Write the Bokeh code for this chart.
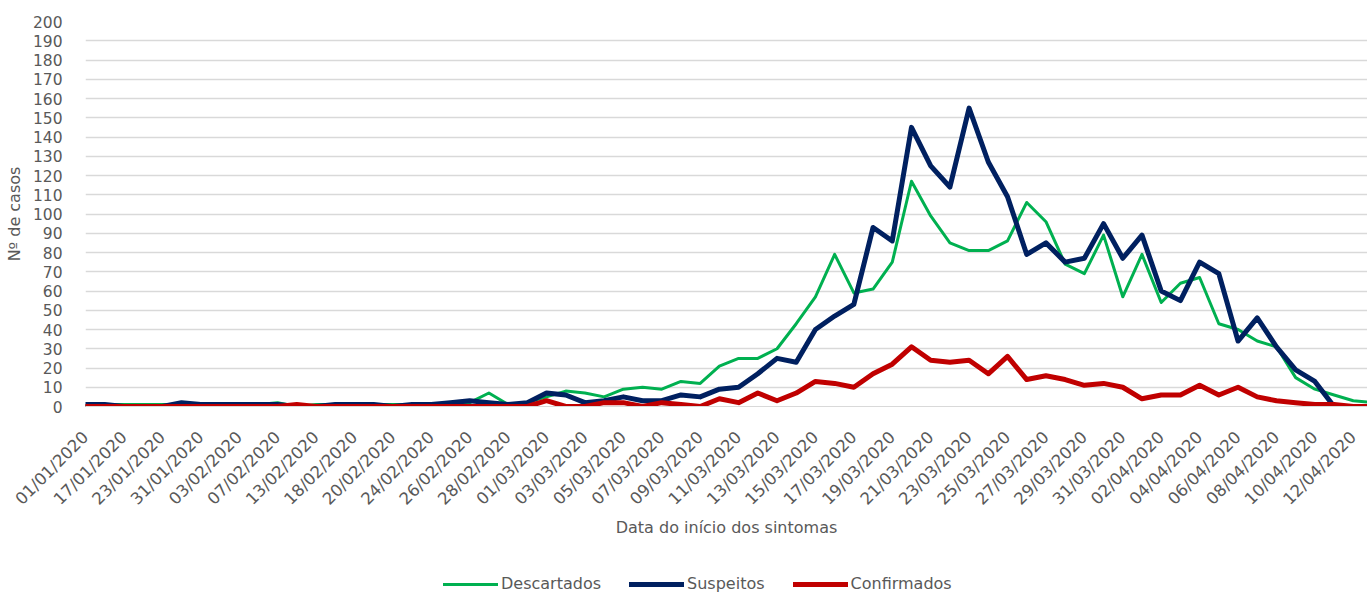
import math
from bokeh.plotting import figure
from bokeh.layouts import column
from bokeh.models import Range1d, FixedTicker, Legend, LegendItem
from bokeh.embed import file_html
from bokeh.resources import INLINE

dates = [
    "01/01/2020", "13/01/2020", "17/01/2020", "20/01/2020", "23/01/2020", "28/01/2020",
    "31/01/2020", "01/02/2020", "03/02/2020", "05/02/2020", "07/02/2020", "10/02/2020",
    "13/02/2020", "14/02/2020", "18/02/2020", "19/02/2020", "20/02/2020", "21/02/2020",
    "24/02/2020", "25/02/2020", "26/02/2020", "27/02/2020", "28/02/2020", "29/02/2020",
    "01/03/2020", "02/03/2020", "03/03/2020", "04/03/2020", "05/03/2020", "06/03/2020",
    "07/03/2020", "08/03/2020", "09/03/2020", "10/03/2020", "11/03/2020", "12/03/2020",
    "13/03/2020", "14/03/2020", "15/03/2020", "16/03/2020", "17/03/2020", "18/03/2020",
    "19/03/2020", "20/03/2020", "21/03/2020", "22/03/2020", "23/03/2020", "24/03/2020",
    "25/03/2020", "26/03/2020", "27/03/2020", "28/03/2020", "29/03/2020", "30/03/2020",
    "31/03/2020", "01/04/2020", "02/04/2020", "03/04/2020", "04/04/2020", "05/04/2020",
    "06/04/2020", "07/04/2020", "08/04/2020", "09/04/2020", "10/04/2020", "11/04/2020",
    "12/04/2020", "13/04/2020",
]

descartados = [
    0, 1, 1, 1, 1, 1, 1, 1, 1, 1, 2, 0, 1, 1, 1, 1, 1, 1, 1, 2, 2, 7, 1, 2,
    5, 8, 7, 5, 9, 10, 9, 13, 12, 21, 25, 25, 30, 43, 57, 79, 59, 61,
    75, 117, 99, 85, 81, 81, 86, 106, 96, 74, 69, 89, 57, 79,
    54, 64, 67, 43, 40, 34, 31, 15, 9, 6, 3, 2,
]
suspeitos = [
    1, 1, 0, 0, 0, 2, 1, 1, 1, 1, 1, 0, 0, 1, 1, 1, 0, 1, 1, 2, 3, 2, 1, 2,
    7, 6, 2, 3, 5, 3, 3, 6, 5, 9, 10, 17, 25, 23, 40, 47, 53, 93,
    86, 145, 125, 114, 155, 127, 109, 79, 85, 75, 77, 95, 77, 89,
    60, 55, 75, 69, 34, 46, 31, 19, 13, 0, 0, 0,
]
confirmados = [
    0, 0, 0, 0, 0, 0, 0, 0, 0, 0, 0, 1, 0, 0, 0, 0, 0, 0, 0, 0, 0, 0, 0, 0,
    3, 0, 0, 2, 2, 0, 2, 1, 0, 4, 2, 7, 3, 7, 13, 12, 10, 17,
    22, 31, 24, 23, 24, 17, 26, 14, 16, 14, 11, 12, 10, 4,
    6, 6, 11, 6, 10, 5, 3, 2, 1, 1, 0, 0,
]

series_names = ["Descartados", "Suspeitos", "Confirmados"]
series_colors = ["#00B050", "#002060", "#C00000"]
series_widths = [3, 5, 5]

y_ticks = list(range(0, 201, 10))

xs = list(range(len(dates)))
label_idx = list(range(0, 67, 2))

FONT = "DejaVu Sans"
GREY = "#595959"

W = 1367

# ---------------- main chart ----------------
p = figure(
    width=W, height=541,
    x_range=Range1d(0, 66.74), y_range=Range1d(0, 200),
    output_backend="svg", toolbar_location=None,
    min_border_left=85, min_border_right=0, min_border_top=21, min_border_bottom=135,
)
p.outline_line_color = None
p.background_fill_color = "white"
p.border_fill_color = "white"

for vals, col, w in zip([descartados, suspeitos, confirmados], series_colors, series_widths):
    p.line(xs, vals, line_color=col, line_width=w, line_join="round", line_cap="round")

# x axis
p.xaxis.ticker = FixedTicker(ticks=label_idx)
p.xaxis.major_label_overrides = {i: dates[i] for i in label_idx}
p.xaxis.major_label_orientation = math.pi / 4
p.xaxis.major_label_text_font = FONT
p.xaxis.major_label_text_font_size = "16.5px"
p.xaxis.major_label_text_color = GREY
p.xaxis.major_tick_line_color = None
p.xaxis.minor_tick_line_color = None
p.xaxis.axis_line_color = "#d9d9d9"
p.xaxis.major_label_standoff = 22
p.xaxis.axis_label = "Data do início dos sintomas"
p.xaxis.axis_label_text_font = FONT
p.xaxis.axis_label_text_font_size = "16px"
p.xaxis.axis_label_text_font_style = "normal"
p.xaxis.axis_label_text_color = GREY
p.xaxis.axis_label_standoff = 0

# y axis
p.yaxis.ticker = FixedTicker(ticks=y_ticks)
p.yaxis.major_label_text_font = FONT
p.yaxis.major_label_text_font_size = "15.5px"
p.yaxis.major_label_text_color = GREY
p.yaxis.major_tick_line_color = None
p.yaxis.minor_tick_line_color = None
p.yaxis.axis_line_color = None
p.yaxis.major_label_standoff = 17
p.yaxis.axis_label = "Nº de casos"
p.yaxis.axis_label_text_font = FONT
p.yaxis.axis_label_text_font_size = "16px"
p.yaxis.axis_label_text_font_style = "normal"
p.yaxis.axis_label_text_color = GREY
p.yaxis.axis_label_standoff = 6

p.xgrid.grid_line_color = None
p.ygrid.ticker = FixedTicker(ticks=y_ticks)
p.ygrid.grid_line_color = "#d9d9d9"
p.ygrid.grid_line_width = 1.5

# ---------------- legend strip ----------------
lg = figure(
    width=W, height=53,
    x_range=Range1d(-1000, -999), y_range=Range1d(-1000, -999),
    output_backend="svg", toolbar_location=None,
    min_border_left=0, min_border_right=0, min_border_top=0, min_border_bottom=0,
    x_axis_location=None, y_axis_location=None,
)
lg.outline_line_color = None
lg.grid.grid_line_color = None
lg.background_fill_color = "white"
lg.border_fill_color = "white"

items = []
for vals, name, col, w in zip([descartados, suspeitos, confirmados], series_names, series_colors, series_widths):
    r = lg.line(xs, vals, line_color=col, line_width=w, line_cap="round")
    items.append(LegendItem(label=name, renderers=[r]))

legend = Legend(
    items=items,
    orientation="horizontal",
    location=(358, 1),
    padding=0, margin=0, spacing=28,
    glyph_width=55, glyph_height=14, label_height=14, label_standoff=3,
    label_text_font=FONT, label_text_font_size="16px", label_text_color=GREY,
    border_line_color=None, background_fill_alpha=0,
)
lg.add_layout(legend, "center")

layout = column(p, lg, spacing=0)
open("out.html", "w").write(file_html(layout, INLINE))
